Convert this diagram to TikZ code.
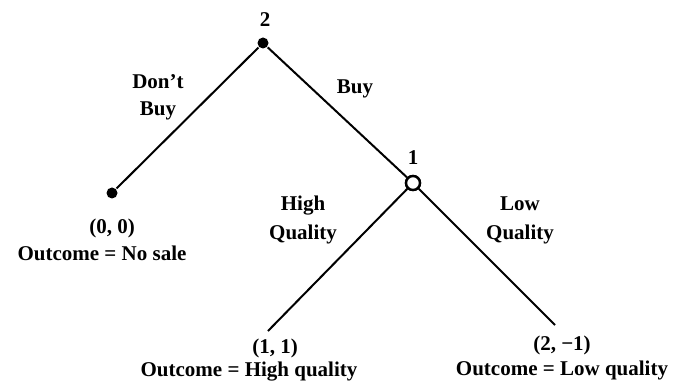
\documentclass[tikz,border=0pt]{standalone}
\usepackage{fontspec}
\setmainfont{Liberation Serif}
\usepackage{tikz}
\usetikzlibrary{positioning}

\begin{document}
\begin{tikzpicture}[x=1pt,y=1pt,line width=2pt,
    font=\bfseries\fontsize{21}{29}\selectfont,
    dot/.style={circle,fill,inner sep=0pt,minimum size=11pt},
    chance/.style={circle,draw,fill=white,line width=2.4pt,inner sep=0pt,minimum size=14pt},
    leaf/.style={inner sep=0pt,minimum size=0pt},
    txt/.style={align=center,inner sep=0pt}]
   \useasboundingbox (0,0) rectangle (677,383);

   % nodes of the tree
   \node[dot] (p2) at (263,340) {};
   \node[dot] (nosale) at (112,190) {};
   \node[chance] (p1) at (413,200) {};
   \node[leaf] (hq) at (267,51) {};
   \node[leaf] (lq) at (556,57) {};

   \path[draw]
   (p2) edge (nosale)
        edge (p1)
   (p1) edge (hq)
        edge (lq);
   \node[chance] at (p1) {};

   % players
   \node[txt] at (265,363) {2};
   \node[txt] at (413,225) {1};

   % moves
   \node[txt] at (158,286) {Don't\\[-2pt]Buy};
   \node[txt] at (355,294) {Buy};
   \node[txt] at (303,163) {High\\Quality};
   \node[txt] at (520,163) {Low\\Quality};

   % payoffs
   \node[txt] at (112,155) {(0, 0)};
   \node[txt] at (102,130) {Outcome = No sale};
   \node[txt] at (275,35) {(1, 1)};
   \node[txt] at (249,11) {Outcome = High quality};
   \node[txt] at (562,38) {(2, −1)};
   \node[txt] at (562,13) {Outcome = Low quality};
\end{tikzpicture}
\end{document}
